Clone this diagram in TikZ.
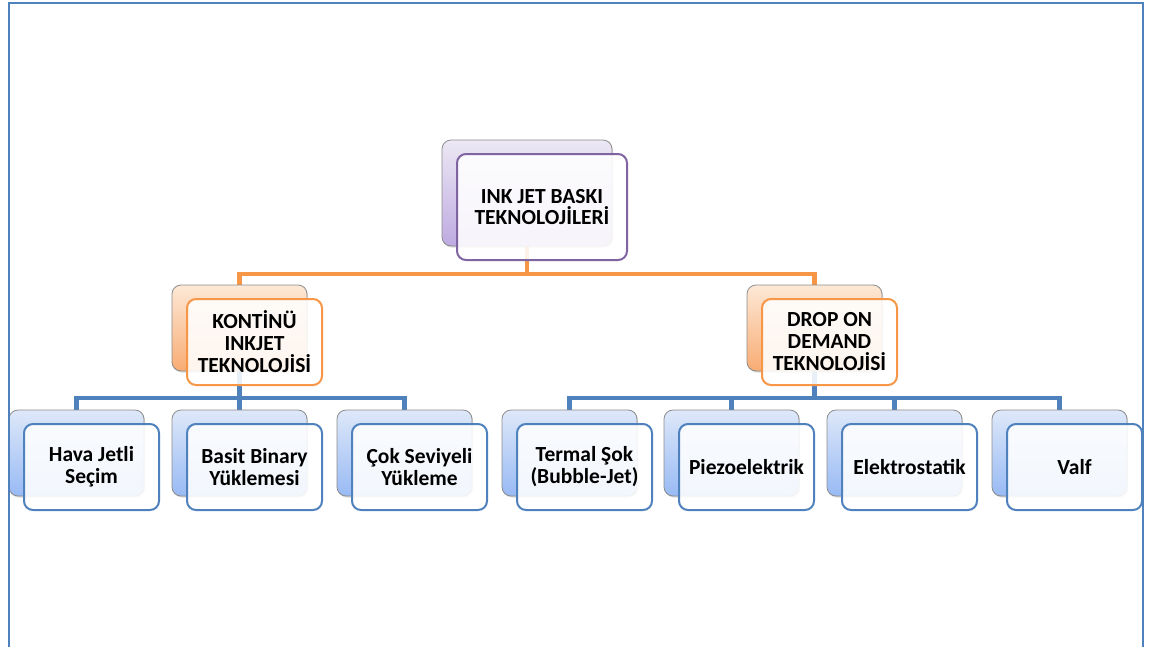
\documentclass[tikz,border=0pt]{standalone}
\usepackage{fontspec}
\setmainfont{Carlito}
\usetikzlibrary{shadows}
\pgfdeclarelayer{bg}
\pgfsetlayers{bg,main}
\definecolor{framecol}{RGB}{79,129,189}
\definecolor{purp}{RGB}{128,100,162}
\definecolor{purpT}{RGB}{236,232,244}
\definecolor{purpB}{RGB}{190,170,225}
\definecolor{orng}{RGB}{247,150,70}
\definecolor{orngT}{RGB}{253,232,214}
\definecolor{orngB}{RGB}{248,172,115}
\definecolor{blu}{RGB}{79,129,189}
\definecolor{bluT}{RGB}{222,232,249}
\definecolor{bluB}{RGB}{152,186,244}
\definecolor{backedge}{RGB}{140,140,140}
\tikzset{
  backbox/.style={anchor=north west, inner sep=0pt, outer sep=0pt, rounded corners=9pt,
    draw=backedge, line width=0.8pt,
    drop shadow={shadow xshift=1pt, shadow yshift=-1.5pt, opacity=0.3}},
  backP/.style={backbox, top color=purpT, bottom color=purpB},
  backO/.style={backbox, top color=orngT, bottom color=orngB},
  backB/.style={backbox, top color=bluT, bottom color=bluB},
  frontbox/.style={anchor=north west, inner sep=0pt, outer sep=0pt, rounded corners=9pt,
    fill=white, fill opacity=0.88, text opacity=1, line width=2pt, align=center,
    font=\fontsize{21.5}{22}\selectfont\bfseries},
  frontP/.style={frontbox, draw=purp},
  frontO/.style={frontbox, draw=orng},
  frontB/.style={frontbox, draw=blu},
  orangeline/.style={draw=orng, line width=4.5pt},
  blueline/.style={draw=blu, line width=4.5pt},
  frameline/.style={draw=framecol, line width=2.5pt},
}
\newcommand\tbox[8]{%
  \node[#6, minimum width=#4pt, minimum height=#5pt] (#1b) at (#2,#3) {};
  \node[#7, minimum width=#4pt, minimum height=#5pt] (#1) at (#2+15,#3+14) {#8};
}
\begin{document}
\begin{tikzpicture}[x=1pt,y=-1pt]
\useasboundingbox (0,0) rectangle (1157,646);
\tbox{root}{442}{140}{170}{106}{backP}{frontP}{INK JET BASKI\\[-1pt]TEKNOLOJİLERİ}
\tbox{kont}{172}{285}{135}{86}{backO}{frontO}{KONTİNÜ\\INKJET\\TEKNOLOJİSİ}
\tbox{drop}{747}{285}{135}{86}{backO}{frontO}{DROP ON\\DEMAND\\TEKNOLOJİSİ}
\tbox{hava}{9}{410}{135}{86}{backB}{frontB}{Hava Jetli\\Seçim}
\tbox{basit}{172}{410}{135}{86}{backB}{frontB}{Basit Binary\\Yüklemesi}
\tbox{cok}{337}{410}{135}{86}{backB}{frontB}{Çok Seviyeli\\Yükleme}
\tbox{termal}{502}{410}{135}{86}{backB}{frontB}{Termal Şok\\(Bubble-Jet)}
\tbox{piezo}{664}{410}{135}{86}{backB}{frontB}{Piezoelektrik}
\tbox{elek}{827}{410}{135}{86}{backB}{frontB}{Elektrostatik}
\tbox{valf}{992}{410}{135}{86}{backB}{frontB}{Valf}
\begin{pgfonlayer}{bg}
\draw[orangeline] (rootb.south) -- ++(0,28) -| (kontb.north);
\draw[orangeline] (rootb.south) -- ++(0,28) -| (dropb.north);
\foreach \c in {hava,basit,cok}
  \draw[blueline] (kontb.south) -- ++(0,27) -| (\c b.north);
\foreach \c in {termal,piezo,elek,valf}
  \draw[blueline] (dropb.south) -- ++(0,27) -| (\c b.north);
\end{pgfonlayer}
\coordinate (fbl) at (9,650);
\coordinate (ftl) at (9,3);
\coordinate (ftr) at (1143,3);
\coordinate (fbr) at (1143,650);
\draw[frameline] (fbl) -- (ftl) -- (ftr) -- (fbr);
\end{tikzpicture}
\end{document}
